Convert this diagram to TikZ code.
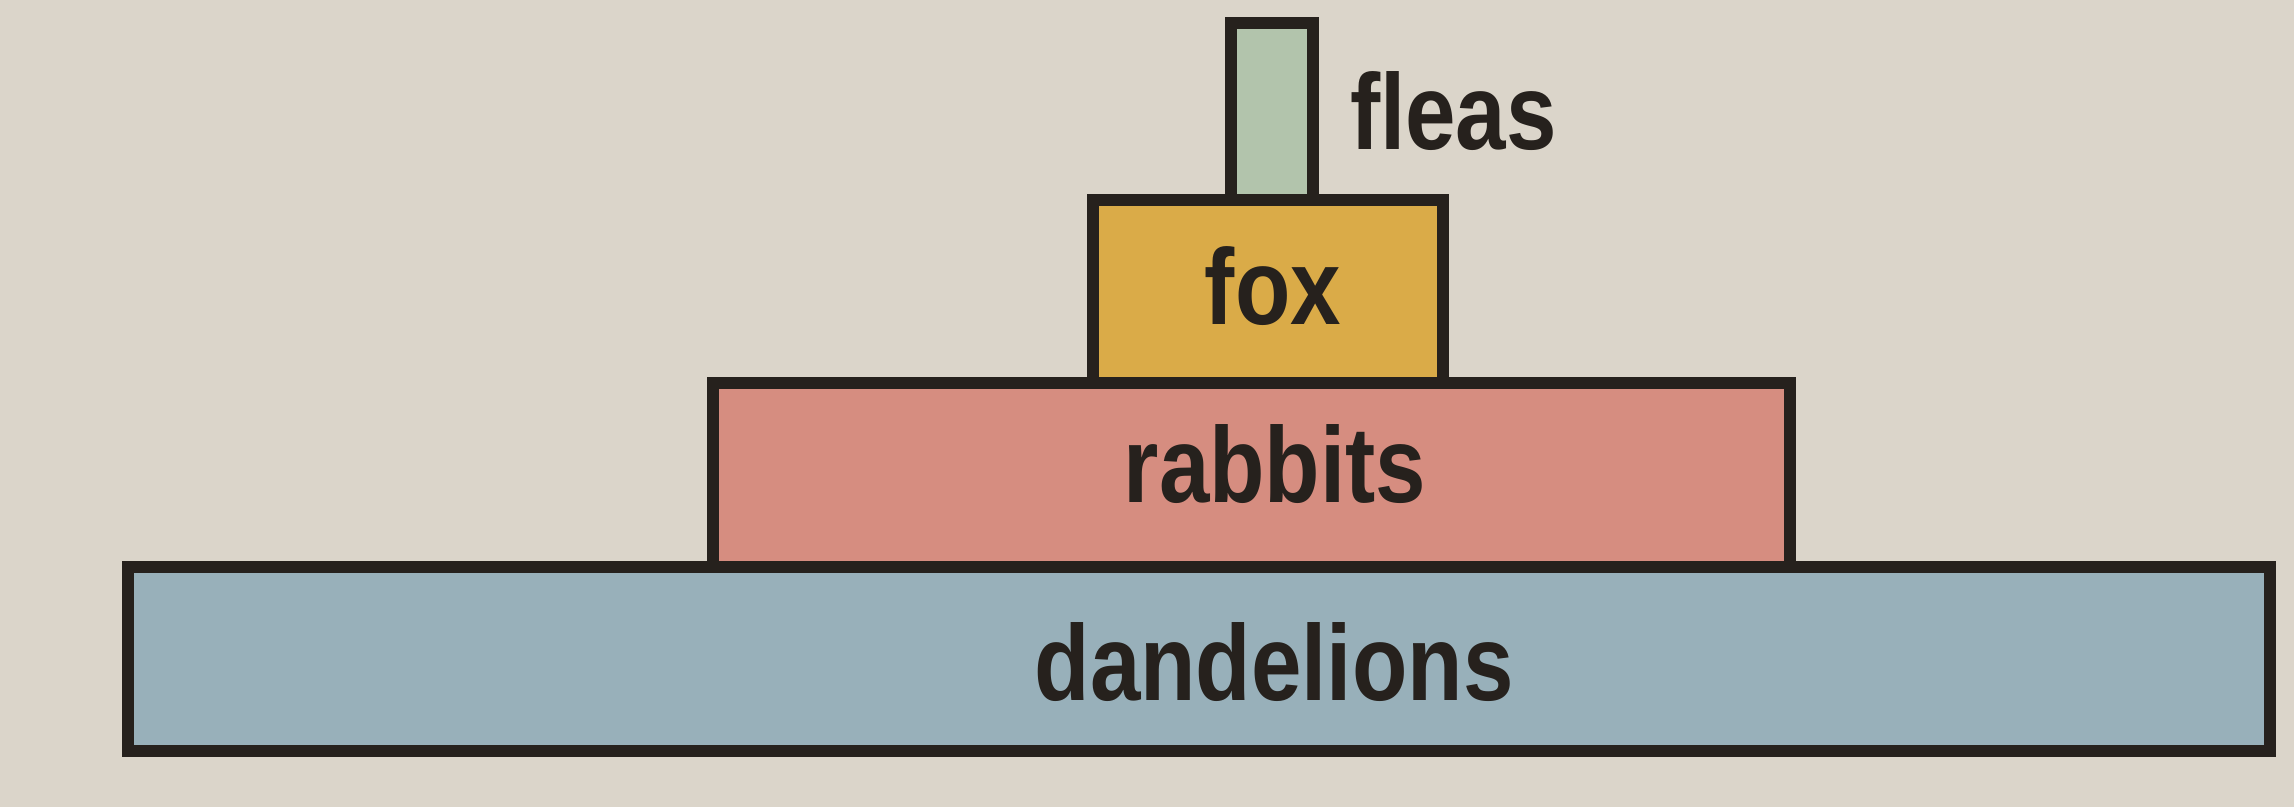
\documentclass[tikz,border=0pt]{standalone}
\usepackage{fontspec}
\usepackage{graphicx}
\newfontfamily\lblfont{Liberation Sans}
\newcommand{\narrowtxt}[1]{\scalebox{0.86}[1.02]{#1}}
\definecolor{paper}{RGB}{219,213,202}
\definecolor{ink}{RGB}{38,33,29}
\definecolor{dandc}{RGB}{152,176,186}
\definecolor{rabbc}{RGB}{214,141,128}
\definecolor{foxc}{RGB}{218,171,72}
\definecolor{fleac}{RGB}{178,196,172}
\tikzset{
  bar/.style={draw=ink, line width=0.12cm, inner sep=0pt, outer sep=0pt, rectangle},
  lbl/.style={inner sep=0pt, outer sep=0pt, text=ink, font=\lblfont\bfseries\fontsize{30}{36}\selectfont}
}
\begin{document}
\begin{tikzpicture}[x=0.01cm, y=-0.01cm]
\fill[paper] (0,0) rectangle (2294,807);
\useasboundingbox (0,0) rectangle (2294,807);
% bars (drawn top-down so lower bars' top lines lie over upper bars' bottoms)
\node[bar, fill=fleac, minimum width=0.82cm, minimum height=1.77cm] (fleas) at (1272,111.5) {};
\node[bar, fill=foxc, minimum width=3.50cm, minimum height=1.83cm] (fox) at (1268,291.5) {};
\node[bar, fill=rabbc, minimum width=10.77cm, minimum height=1.84cm] (rabbits) at (1251.5,475) {};
\node[bar, fill=dandc, minimum width=21.40cm, minimum height=1.84cm] (dand) at (1199,659) {};
% labels
\node[lbl, anchor=base] (tdand) at (1274,700) {\narrowtxt{dandelions}};
\node[lbl, anchor=base] (trabb) at (1275,503) {\narrowtxt{rabbits}};
\node[lbl, anchor=base] (tfox) at (1273,325) {\narrowtxt{fox}};
\node[lbl, anchor=base west] (tflea) at (1350,150) {\narrowtxt{fleas}};
\end{tikzpicture}
\end{document}
